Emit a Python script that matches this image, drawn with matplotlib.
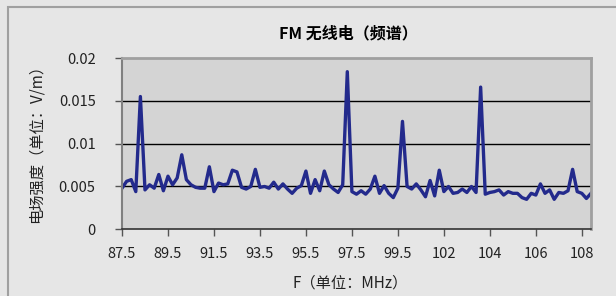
import numpy as np
import matplotlib.pyplot as plt
from matplotlib.patches import Rectangle

plt.rcParams['font.family'] = ['Liberation Sans Narrow', 'Noto Sans CJK SC', 'DejaVu Sans']

# =========================
# 데이터
# =========================
freq_start = 87.5
freq_step = 0.2

field = [
    0.0048, 0.0056, 0.0058, 0.0044, 0.0155, 0.0046, 0.0052, 0.0048, 0.0064, 0.0045,
    0.0062, 0.0052, 0.0060, 0.0087, 0.0058, 0.0052, 0.0049, 0.0048, 0.0048, 0.0073,
    0.0044, 0.0054, 0.0052, 0.0053, 0.0069, 0.0067, 0.0049, 0.0047, 0.0050, 0.0070,
    0.0049, 0.0050, 0.0048, 0.0055, 0.0047, 0.0053, 0.0047, 0.0042, 0.0048, 0.0051,
    0.0068, 0.0042, 0.0058, 0.0045, 0.0068, 0.0052, 0.0047, 0.0043, 0.0052, 0.0184,
    0.0044, 0.0041, 0.0045, 0.0041, 0.0047, 0.0062, 0.0042, 0.0051, 0.0042, 0.0037,
    0.0048, 0.0126, 0.0050, 0.0047, 0.0053, 0.0046, 0.0038, 0.0057, 0.0039, 0.0069,
    0.0044, 0.0050, 0.0042, 0.0043, 0.0047, 0.0043, 0.0050, 0.0043, 0.0166, 0.0041,
    0.0043, 0.0044, 0.0046, 0.0040, 0.0044, 0.0042, 0.0042, 0.0037, 0.0035, 0.0042,
    0.0040, 0.0053, 0.0042, 0.0046, 0.0035, 0.0043, 0.0042, 0.0045, 0.0070, 0.0044,
    0.0042, 0.0036, 0.0042,
]

freqs = [freq_start + freq_step * i for i in range(len(field))]
tick_idx = list(range(0, len(field), 10))
tick_labels = ['87.5', '89.5', '91.5', '93.5', '95.5', '97.5', '99.5',
               '102', '104', '106', '108']
y_ticks = [0, 0.005, 0.01, 0.015, 0.02]
y_tick_labels = ['0', '0.005', '0.01', '0.015', '0.02']

# =========================
# 그림
# =========================
fig = plt.figure(figsize=(6.16, 2.96), dpi=100)
fig.patch.set_facecolor('#e6e6e6')

# 차트 영역 테두리
fig.patches.append(Rectangle((8 / 616, -0.1), 1.0, 1.0 + 0.1 - 7 / 296,
                             transform=fig.transFigure, facecolor='none',
                             edgecolor='#a0a0a0', linewidth=1.5))

ax = fig.add_axes([122 / 616, (296 - 229.3) / 296, 469 / 616, 171.3 / 296])
ax.set_facecolor('#d4d4d4')

x = np.arange(len(field))
ax.plot(x, field, color='#232a8c', linewidth=2.4, solid_joinstyle='round')

ax.set_xlim(0, len(field) - 1)
ax.set_ylim(0, 0.02)

ax.set_yticks(y_ticks)
ax.set_yticklabels(y_tick_labels)
ax.set_xticks(tick_idx)
ax.set_xticklabels(tick_labels)

for yv in y_ticks[1:4]:
    ax.axhline(yv, color='black', linewidth=1.0, zorder=1)

ax.tick_params(axis='both', labelsize=10.5, colors='#222222',
               length=5, width=1, direction='out')
ax.tick_params(axis='x', pad=8, color='#555555')
ax.tick_params(axis='y', pad=14, color='#555555')

for side in ['top', 'right']:
    ax.spines[side].set_color('#a0a0a0')
    ax.spines[side].set_linewidth(2)
ax.spines['left'].set_color('#808080')
ax.spines['left'].set_linewidth(1.5)
ax.spines['bottom'].set_color('#333333')
ax.spines['bottom'].set_linewidth(1.2)

fig.text(348 / 616, 1 - 33 / 296, 'FM 无线电（频谱）', ha='center', va='center',
         fontsize=11.5, fontweight='bold', family=['Noto Sans CJK SC', 'DejaVu Sans'])
fig.text(350 / 616, 1 - 283 / 296, 'F（单位：MHz）', ha='center', va='center',
         fontsize=11, color='#222222')
fig.text(36 / 616, 1 - 140 / 296, '电场强度（单位：V/m）', ha='center', va='center',
         rotation=90, fontsize=11, color='#222222')

plt.savefig('out.png', dpi=100, facecolor=fig.get_facecolor())
